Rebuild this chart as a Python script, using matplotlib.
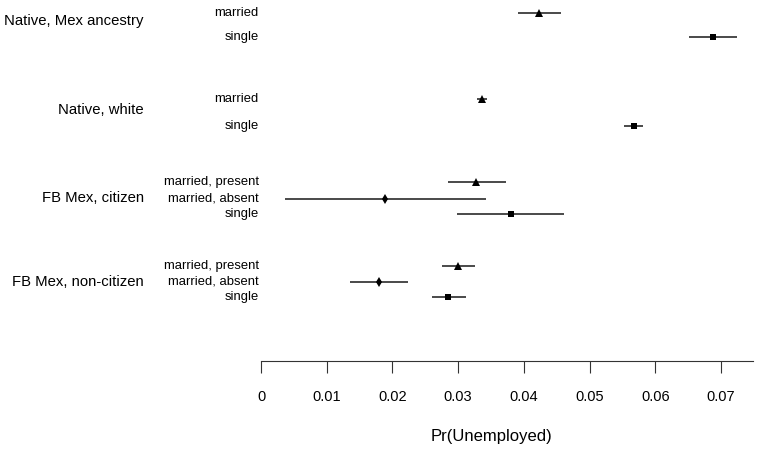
import matplotlib
matplotlib.use("Agg")
import matplotlib.pyplot as plt
from matplotlib.transforms import blended_transform_factory

plt.rcParams['font.family'] = ['Liberation Sans', 'DejaVu Sans']

# ---- data ----
groups = ["Native, Mex ancestry", "Native, white", "FB Mex, citizen", "FB Mex, non-citizen"]
levels = [
    ["married", "single"],
    ["married", "single"],
    ["married, present", "married, absent", "single"],
    ["married, present", "married, absent", "single"],
]
estimates = [
    [0.04235, 0.06879],
    [0.03359, 0.05672],
    [0.03277, 0.01892, 0.03800],
    [0.03003, 0.01796, 0.02850],
]
lower = [
    [0.03907, 0.06518],
    [0.03283, 0.05529],
    [0.02841, 0.00370, 0.02988],
    [0.02755, 0.01359, 0.02598],
]
upper = [
    [0.04566, 0.07239],
    [0.03435, 0.05809],
    [0.03724, 0.03420, 0.04616],
    [0.03257, 0.02237, 0.03115],
]
tick_values = [0, 0.01, 0.02, 0.03, 0.04, 0.05, 0.06, 0.07]
tick_labels = ["0", "0.01", "0.02", "0.03", "0.04", "0.05", "0.06", "0.07"]
xlabel = "Pr(Unemployed)"

# ---- layout (positions in pixel rows of the canvas) ----
W, H = 762, 454
row_pos = [
    [12.7, 37.3],
    [99.0, 125.5],
    [182.0, 198.5, 214.0],
    [265.5, 281.7, 296.7],
]
group_pos = [21.5, 110.0, 198.5, 282.5]
marker_for = {"married": "^", "married, present": "^", "married, absent": "d", "single": "s"}
msize_for = {"^": 6.4, "d": 5.6, "s": 5.0}

fig = plt.figure(figsize=(W / 100, H / 100), dpi=100)
axis_y = 361
ax = fig.add_axes([261 / W, 1 - axis_y / H, (753 - 261) / W, axis_y / H])
x_max = (753 - 261) / 6571.4
ax.set_xlim(0, x_max)
ax.set_ylim(axis_y, 0)

for g in range(len(groups)):
    for i, lev in enumerate(levels[g]):
        y = row_pos[g][i]
        ax.plot([lower[g][i], upper[g][i]], [y, y], color='#222222', lw=1.15,
                solid_capstyle='butt', zorder=2)
        m = marker_for[lev]
        ax.plot([estimates[g][i]], [y], marker=m, markersize=msize_for[m],
                color='black', markeredgewidth=0, linestyle='none', zorder=3)

trans = blended_transform_factory(fig.transFigure, ax.transData)
for g in range(len(groups)):
    ax.text(144 / W, group_pos[g], groups[g], transform=trans, ha='right',
            va='center', fontsize=10.7, color='black')
    for i, lev in enumerate(levels[g]):
        ax.text(258.5 / W, row_pos[g][i], lev, transform=trans, ha='right',
                va='center', fontsize=9.4, color='black')

for s in ['top', 'right', 'left']:
    ax.spines[s].set_visible(False)
ax.spines['bottom'].set_color('#333333')
ax.spines['bottom'].set_linewidth(0.8)
ax.set_yticks([])
ax.set_xticks(tick_values)
ax.set_xticklabels(tick_labels)
ax.tick_params(axis='x', length=8.6, width=0.8, color='#333333', pad=12,
               labelsize=10.5, labelcolor='black')
ax.patch.set_alpha(0)

fig.text((261 + 721) / 2 / W, 1 - 437 / H, xlabel, ha='center', va='center',
         fontsize=12)

fig.savefig("out.png", dpi=100)
